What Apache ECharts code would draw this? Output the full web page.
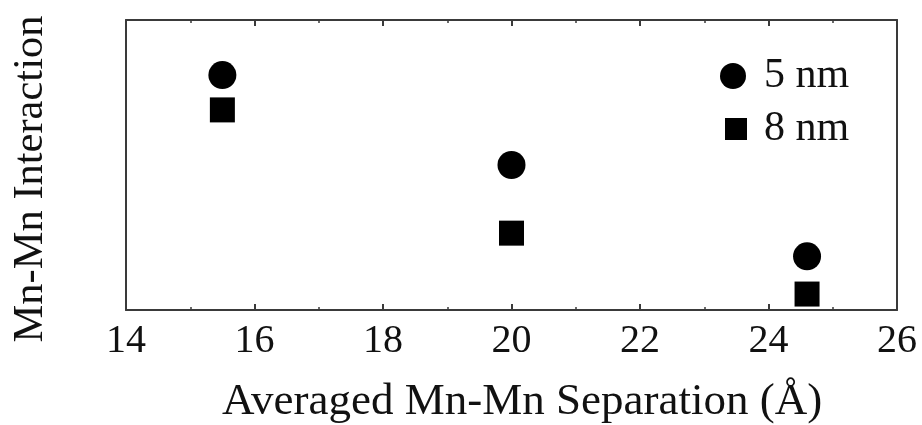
<!DOCTYPE html>
<html>
<head>
<meta charset="utf-8">
<script src="https://cdn.jsdelivr.net/npm/echarts@6/dist/echarts.min.js"></script>
<style>
  html, body { margin: 0; padding: 0; background: #fff; }
  #chart { width: 922px; height: 425px; }
</style>
</head>
<body>
<div id="chart"></div>
<script>
// Averaged Mn-Mn separation (Å) for each sample
const separation = [15.5, 20.0, 24.6];
// Relative Mn-Mn interaction (arbitrary units) per particle size
const interaction5nm = [8.1, 5.0, 1.85];
const interaction8nm = [6.9, 2.65, 0.55];
const seriesNames = ['5 nm', '8 nm'];
const xTicks = [14, 16, 18, 20, 22, 24, 26];
const xTitle = 'Averaged Mn-Mn Separation (Å)';
const yTitle = 'Mn-Mn Interaction';

const serif = '"Liberation Serif", "DejaVu Serif", serif';
const frameColor = '#3a3a3a';
const inkColor = '#111';

const chart = echarts.init(document.getElementById('chart'), null, { renderer: 'canvas' });

function pairs(xs, ys) {
  return xs.map((x, i) => [x, ys[i]]);
}

const axisLineStyle = { show: true, onZero: false, lineStyle: { color: frameColor, width: 2 } };
const majorTick = { show: true, inside: true, length: 6, lineStyle: { color: frameColor, width: 2 } };
const minorTick = { show: true, splitNumber: 2, length: 3, lineStyle: { color: frameColor, width: 1.5 } };

chart.setOption({
  animation: false,
  backgroundColor: '#fff',
  grid: { left: 126, right: 25, top: 20, bottom: 115, containLabel: false },
  xAxis: [
    {
      type: 'value',
      min: xTicks[0],
      max: xTicks[xTicks.length - 1],
      interval: 2,
      position: 'bottom',
      axisLine: axisLineStyle,
      axisTick: majorTick,
      minorTick: minorTick,
      splitLine: { show: false },
      axisLabel: { color: inkColor, fontFamily: serif, fontSize: 40, margin: 11 }
    },
    {
      type: 'value',
      min: xTicks[0],
      max: xTicks[xTicks.length - 1],
      interval: 2,
      position: 'top',
      axisLine: axisLineStyle,
      axisTick: majorTick,
      minorTick: minorTick,
      splitLine: { show: false },
      axisLabel: { show: false }
    }
  ],
  yAxis: [
    {
      type: 'value',
      min: 0,
      max: 10,
      position: 'left',
      axisLine: axisLineStyle,
      axisTick: { show: false },
      splitLine: { show: false },
      axisLabel: { show: false }
    },
    {
      type: 'value',
      min: 0,
      max: 10,
      position: 'right',
      axisLine: axisLineStyle,
      axisTick: { show: false },
      splitLine: { show: false },
      axisLabel: { show: false }
    }
  ],
  graphic: [
    {
      type: 'text',
      x: 522, y: 402,
      style: {
        text: xTitle, fill: inkColor, fontFamily: serif, fontSize: 45,
        textAlign: 'center', textVerticalAlign: 'middle'
      }
    },
    {
      type: 'text',
      x: 31, y: 179,
      rotation: Math.PI / 2,
      style: {
        text: yTitle, fill: inkColor, fontFamily: serif, fontSize: 42.5,
        textAlign: 'center', textVerticalAlign: 'middle'
      }
    }
  ],
  legend: [
    {
      data: [{ name: seriesNames[0], icon: 'circle' }],
      left: 715, top: 50,
      itemWidth: 26, itemHeight: 26,
      itemStyle: { opacity: 1 },
      textStyle: { color: inkColor, fontFamily: serif, fontSize: 42, lineHeight: 26, padding: [0, 0, 0, 13] }
    },
    {
      data: [{ name: seriesNames[1], icon: 'rect' }],
      left: 720, top: 103,
      itemWidth: 22, itemHeight: 22,
      itemStyle: { opacity: 1 },
      textStyle: { color: inkColor, fontFamily: serif, fontSize: 42, lineHeight: 22, padding: [0, 0, 0, 12] }
    }
  ],
  series: [
    {
      name: seriesNames[0],
      type: 'scatter',
      symbol: 'circle',
      symbolSize: 28,
      itemStyle: { color: '#000', opacity: 1 },
      data: pairs(separation, interaction5nm)
    },
    {
      name: seriesNames[1],
      type: 'scatter',
      symbol: 'rect',
      symbolSize: 25,
      itemStyle: { color: '#000', opacity: 1 },
      data: pairs(separation, interaction8nm)
    }
  ]
});
</script>
</body>
</html>
